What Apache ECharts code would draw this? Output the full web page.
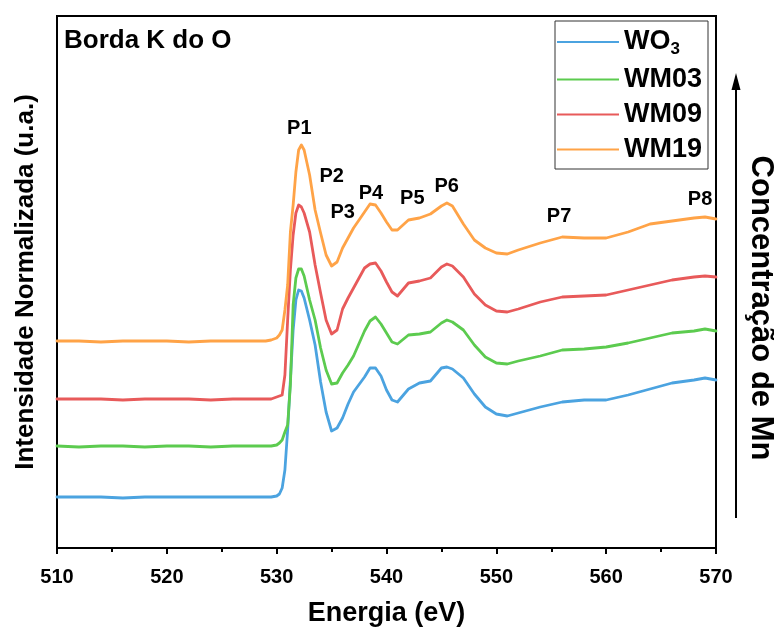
<!DOCTYPE html>
<html>
<head>
<meta charset="utf-8">
<script src="https://cdn.jsdelivr.net/npm/echarts@6/dist/echarts.min.js"></script>
<style>html,body{margin:0;padding:0;background:#fff}#chart{width:774px;height:632px}</style>
</head>
<body>
<div id="chart"></div>
<script>
const energy = [510,512,514,516,518,520,522,524,526,528,
  529,529.5,530,530.25,530.5,530.75,531,531.25,531.5,531.75,532,532.25,532.5,
  533,533.5,534,534.5,535,535.5,536,536.5,537,
  538,538.5,539,539.5,540,540.5,541,
  542,543,544,545,545.5,546,547,548,549,550,551,552,
  554,556,558,560,562,564,566,568,569,570];

const wo3 = [0.51,0.51,0.51,0.50,0.51,0.51,0.51,0.51,0.51,0.51,
  0.51,0.51,0.52,0.54,0.60,0.78,1.18,1.68,2.18,2.48,2.58,2.57,2.50,
  2.28,2.03,1.66,1.36,1.17,1.20,1.30,1.44,1.56,
  1.71,1.80,1.80,1.72,1.58,1.48,1.46,
  1.59,1.65,1.67,1.80,1.81,1.79,1.70,1.54,1.41,1.34,1.32,1.35,
  1.41,1.46,1.48,1.48,1.53,1.59,1.65,1.68,1.70,1.68];

const wm03 = [1.02,1.01,1.02,1.02,1.01,1.02,1.02,1.01,1.02,1.02,
  1.02,1.02,1.03,1.05,1.08,1.16,1.23,1.63,2.43,2.70,2.79,2.79,2.72,
  2.48,2.28,2.00,1.78,1.64,1.65,1.75,1.83,1.92,
  2.17,2.27,2.31,2.24,2.15,2.06,2.04,
  2.13,2.14,2.16,2.25,2.28,2.26,2.18,2.03,1.91,1.85,1.84,1.87,
  1.92,1.98,1.99,2.01,2.05,2.10,2.15,2.17,2.19,2.17];

const wm09 = [1.49,1.49,1.49,1.48,1.49,1.49,1.49,1.48,1.49,1.49,
  1.49,1.49,1.51,1.52,1.53,1.73,2.28,2.78,3.13,3.35,3.43,3.41,3.35,
  3.16,2.83,2.55,2.28,2.14,2.18,2.39,2.50,2.60,
  2.80,2.84,2.85,2.77,2.66,2.56,2.52,
  2.65,2.67,2.70,2.81,2.84,2.82,2.71,2.54,2.43,2.37,2.36,2.39,
  2.46,2.51,2.52,2.53,2.58,2.63,2.68,2.71,2.72,2.71];

const wm19 = [2.07,2.07,2.06,2.07,2.07,2.07,2.06,2.07,2.07,2.07,
  2.07,2.08,2.10,2.13,2.18,2.38,2.63,3.16,3.43,3.76,3.98,4.03,3.98,
  3.73,3.38,3.15,2.93,2.82,2.86,3.00,3.10,3.20,
  3.36,3.44,3.43,3.35,3.26,3.18,3.18,
  3.28,3.30,3.34,3.42,3.45,3.42,3.24,3.08,3.00,2.95,2.94,2.98,
  3.05,3.11,3.10,3.10,3.16,3.24,3.27,3.30,3.31,3.29];

const seriesNames = ['WO3','WM03','WM09','WM19'];
const seriesColors = ['#4ba3e0','#5ccb4f','#e85a5a','#ffa347'];
const xTicks = [510,520,530,540,550,560,570];

const peakNames = ['P1','P2','P3','P4','P5','P6','P7','P8'];
const peakE = [532.06,535.01,536.01,538.59,542.35,545.48,555.71,568.55];
const peakV = [4.20,3.72,3.36,3.55,3.50,3.62,3.32,3.49];

const FONT = '"Liberation Sans", Arial, sans-serif';
const allData = [wo3, wm03, wm09, wm19];

const lineSeries = seriesNames.map((n, i) => ({
  name: n,
  type: 'line',
  data: energy.map((e, k) => [e, allData[i][k]]),
  showSymbol: false,
  symbol: 'none',
  smooth: false,
  lineStyle: { color: seriesColors[i], width: 2.8, join: 'round', cap: 'round' },
  itemStyle: { color: seriesColors[i] },
  z: 2 + i,
  silent: true,
  animation: false
}));

const chart = echarts.init(document.getElementById('chart'), null, { renderer: 'canvas' });
chart.setOption({
  animation: false,
  backgroundColor: '#fff',
  title: {
    text: 'Borda K do O',
    left: 64, top: 28, padding: 0,
    textStyle: { fontFamily: FONT, fontWeight: 'bold', fontSize: 26, color: '#000' }
  },
  grid: {
    left: 57, right: 58, top: 16, bottom: 84,
    show: true, borderColor: '#000', borderWidth: 2, backgroundColor: 'transparent'
  },
  legend: {
    data: seriesNames,
    orient: 'vertical',
    left: 555, top: 21,
    padding: [5, 6, 6, 2],
    itemWidth: 62, itemHeight: 12, itemGap: 8,
    borderColor: '#333', borderWidth: 1,
    icon: 'path://M0,5 L62,5 L62,7 L0,7 Z',
    textStyle: {
      fontFamily: FONT, fontWeight: 'bold', fontSize: 27, color: '#000', lineHeight: 27,
      rich: {
        a: { fontFamily: FONT, fontWeight: 'bold', fontSize: 27, color: '#000', lineHeight: 32 },
        s: { fontFamily: FONT, fontWeight: 'bold', fontSize: 17, color: '#000', padding: [14, 0, 0, 0], lineHeight: 32 }
      }
    },
    formatter: n => n === 'WO3' ? '{a|WO}{s|3}' : n
  },
  xAxis: {
    type: 'value', min: 510, max: 570, interval: 10,
    axisLine: { lineStyle: { color: '#000', width: 2 } },
    axisTick: { show: true, inside: false, length: 6, lineStyle: { color: '#000', width: 2 } },
    minorTick: { show: true, splitNumber: 2, length: 4, lineStyle: { color: '#000', width: 2 } },
    splitLine: { show: false },
    axisLabel: { fontFamily: FONT, fontWeight: 'bold', fontSize: 20, color: '#000', margin: 19,
      formatter: v => xTicks.includes(v) ? String(v) : '' },
    name: 'Energia (eV)', nameLocation: 'middle', nameGap: 52,
    nameTextStyle: { fontFamily: FONT, fontWeight: 'bold', fontSize: 27, color: '#000' }
  },
  yAxis: {
    type: 'value', min: 0, max: 5.32,
    axisLine: { show: true, lineStyle: { color: '#000', width: 2 } },
    axisTick: { show: false }, axisLabel: { show: false }, splitLine: { show: false },
    name: 'Intensidade Normalizada (u.a.)', nameLocation: 'middle', nameGap: 18,
    nameTextStyle: { fontFamily: FONT, fontWeight: 'bold', fontSize: 26, color: '#000' }
  },
  series: lineSeries.concat([{
    type: 'scatter',
    data: peakNames.map((p, i) => [peakE[i], peakV[i], p]),
    symbolSize: 0,
    itemStyle: { color: '#000', opacity: 1 },
    label: { show: true, position: 'inside', formatter: d => d.value[2],
      fontFamily: FONT, fontWeight: 'bold', fontSize: 20, color: '#000', opacity: 1,
      textBorderWidth: 0 },
    emphasis: { disabled: true },
    silent: true, z: 10
  }]),
  graphic: [
    { type: 'line', shape: { x1: 736, y1: 518, x2: 736, y2: 88 }, style: { stroke: '#000', lineWidth: 2 } },
    { type: 'polygon', shape: { points: [[736, 73], [740.5, 90], [731.5, 90]] }, style: { fill: '#000' } },
    { type: 'text', x: 761, y: 308, rotation: -Math.PI / 2,
      style: { text: 'Concentração de Mn', fontFamily: FONT, fontWeight: 'bold', fontSize: 31, fill: '#000',
        align: 'center', verticalAlign: 'middle' } }
  ]
});
</script>
</body>
</html>
